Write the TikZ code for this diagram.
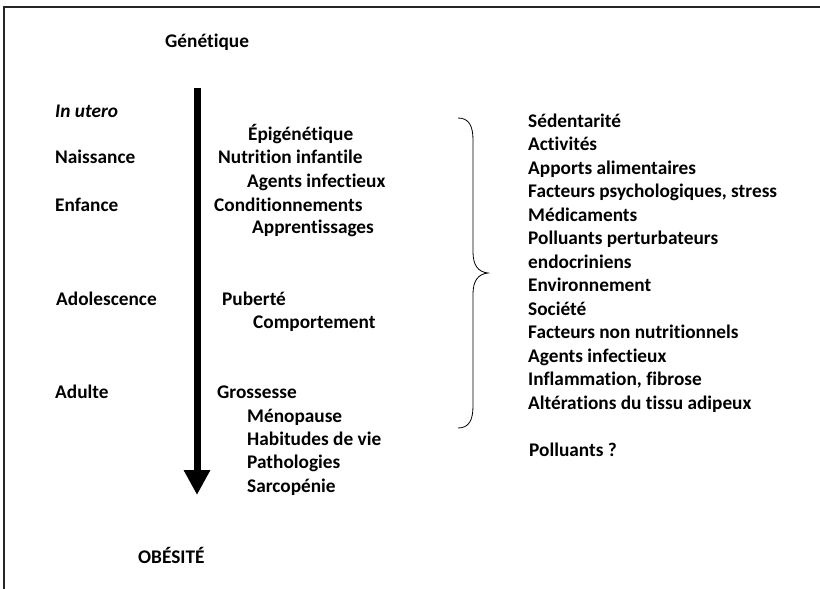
\documentclass[tikz,border=0pt]{standalone}
\usepackage{fontspec}
\setmainfont{Carlito}[RawFeature={-liga}]
\usetikzlibrary{arrows.meta}
\begin{document}
\begin{tikzpicture}[x=1pt,y=-1pt,
  lbl/.style={anchor=base west,inner sep=0pt,font=\fontsize{19.3}{23.5}\selectfont\bfseries},
  frame/.style={line width=1.6pt,draw=black!85},
  bigarrow/.style={line width=7pt,-{Triangle[width=25pt,length=25pt]}},
  bracepath/.style={line width=0.8pt}]
\useasboundingbox (0,0) rectangle (820,589);
\draw[frame] (4,589) -- (4,7) -- (820,7);
% title
\node[lbl] (gen) at (165,47) {Génétique};
% arrow
\coordinate (atop) at (197,88);
\coordinate (abot) at (197,495);
\draw[bigarrow] (atop) -- (abot);
% left column
\node[lbl,font=\fontsize{19.3}{23.5}\selectfont\bfseries\itshape] (utero) at (55,117) {In utero};
\node[lbl] (naiss) at (55,163) {Naissance};
\node[lbl] (enf) at (55,211) {Enfance};
\node[lbl] (ado) at (56,305) {Adolescence};
\node[lbl] (adu) at (55,398) {Adulte};
\node[lbl] (obe) at (138,563) {OBÉSITÉ};
% middle column
\node[lbl] (epi) at (248,140) {Épigénétique};
\node[lbl] (nut) at (218,163) {Nutrition infantile};
\node[lbl] (agi) at (247,187) {Agents infectieux};
\node[lbl] (cond) at (214,211) {Conditionnements};
\node[lbl] (app) at (252,233) {Apprentissages};
\node[lbl] (pub) at (222,305) {Puberté};
\node[lbl] (comp) at (253,328) {Comportement};
\node[lbl] (gro) at (217,398) {Grossesse};
\node[lbl] (meno) at (247,422) {Ménopause};
\node[lbl] (hab) at (247,445) {Habitudes de vie};
\node[lbl] (path) at (247,468) {Pathologies};
\node[lbl] (sarc) at (247,492) {Sarcopénie};
% brace
\draw[bracepath] (458,118) .. controls (469,118) and (473,126) .. (473,140)
  -- (473,252) .. controls (473,265) and (478,272) .. (488,273)
  .. controls (478,274) and (473,281) .. (473,294)
  -- (473,406) .. controls (473,420) and (469,428) .. (458,428);
% right column
\node[lbl] (r1) at (528,127) {Sédentarité};
\node[lbl] (r2) at (528,150.5) {Activités};
\node[lbl] (r3) at (528,174) {Apports alimentaires};
\node[lbl] (r4) at (528,197.5) {Facteurs psychologiques, stress};
\node[lbl] (r5) at (528,221) {Médicaments};
\node[lbl] (r6) at (528,244.5) {Polluants perturbateurs};
\node[lbl] (r7) at (528,268) {endocriniens};
\node[lbl] (r8) at (528,291.5) {Environnement};
\node[lbl] (r9) at (528,315) {Société};
\node[lbl] (r10) at (528,338.5) {Facteurs non nutritionnels};
\node[lbl] (r11) at (528,362) {Agents infectieux};
\node[lbl] (r12) at (528,385.5) {Inflammation, fibrose};
\node[lbl] (r13) at (528,409) {Altérations du tissu adipeux};
\node[lbl] (r14) at (529,456) {Polluants ?};
\end{tikzpicture}
\end{document}
